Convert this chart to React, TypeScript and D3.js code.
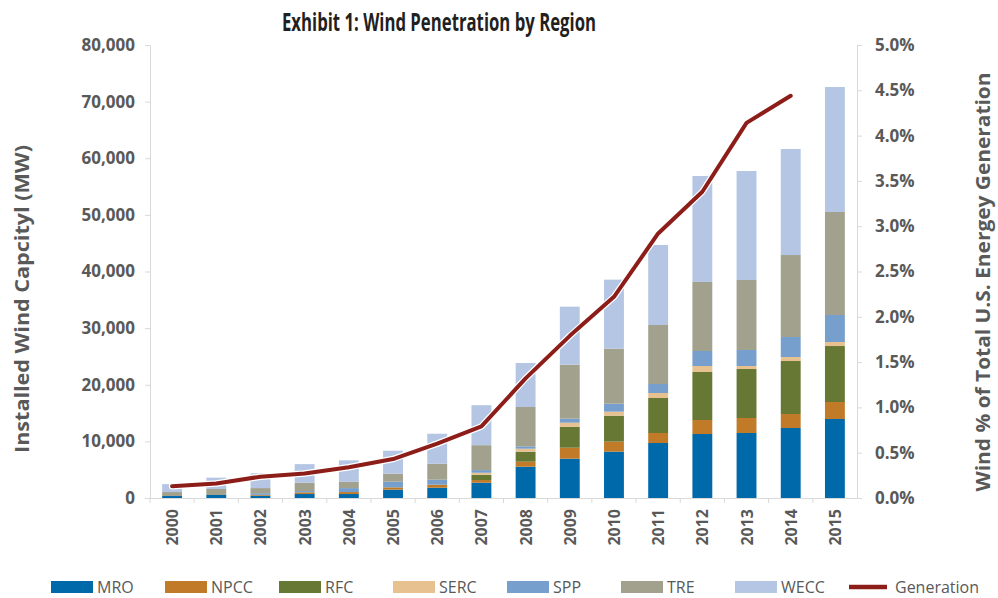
import { useEffect, useRef } from "react";
import * as d3 from "d3";

const years = [
  "2000", "2001", "2002", "2003", "2004", "2005", "2006", "2007",
  "2008", "2009", "2010", "2011", "2012", "2013", "2014", "2015",
];
const regions = ["MRO", "NPCC", "RFC", "SERC", "SPP", "TRE", "WECC"];
const regionColors = ["#0069aa", "#c07a28", "#677834", "#e8c190", "#779fcd", "#a1a18d", "#b4c6e4"];

// installed capacity in MW
const mro = [350, 530, 400, 700, 700, 1470, 1820, 2700, 5530, 6940, 8180, 9710, 11300, 11480, 12360, 13950];
const npcc = [0, 0, 150, 300, 350, 410, 530, 470, 880, 1940, 1770, 1770, 2470, 2650, 2470, 3000];
const rfc = [0, 0, 0, 0, 0, 0, 0, 940, 1770, 3710, 4590, 6180, 8480, 8650, 9360, 9890];
const serc = [0, 0, 0, 0, 0, 0, 0, 350, 530, 710, 710, 880, 1060, 530, 710, 710];
const spp = [0, 0, 300, 230, 700, 1000, 880, 470, 410, 710, 1410, 1590, 2650, 2830, 3530, 4770];
const tre = [700, 1060, 900, 1450, 1100, 1410, 2820, 4400, 6950, 9540, 9710, 10420, 12190, 12360, 14480, 18190];
const wecc = [1400, 2000, 2600, 3300, 3800, 4060, 5300, 7060, 7770, 10240, 12190, 14130, 18720, 19250, 18720, 22070];

// wind share of total generation (%), 2000-2014
const generation = [0.13, 0.16, 0.235, 0.27, 0.34, 0.43, 0.6, 0.79, 1.32, 1.79, 2.22, 2.92, 3.38, 4.14, 4.44];

const leftTicks = [0, 10000, 20000, 30000, 40000, 50000, 60000, 70000, 80000];
const rightTicks = [0, 0.005, 0.01, 0.015, 0.02, 0.025, 0.03, 0.035, 0.04, 0.045, 0.05];

const FONT = "'Open Sans', 'Noto Sans', sans-serif";
const AXIS_GREY = "#d9d9d9";
const TEXT_GREY = "#595959";

export default function App() {
  const svgRef = useRef<SVGSVGElement>(null);

  useEffect(() => {
    if (!svgRef.current) return;
    const svg = d3.select(svgRef.current);
    svg.selectAll("*").remove();

    const left = 150;
    const right = 857;
    const top = 45;
    const bottom = 498;

    const x = d3
      .scaleBand<string>()
      .domain(years)
      .range([left, right])
      .paddingInner(0.55)
      .paddingOuter(0.275);
    const y = d3.scaleLinear().domain([0, 80000]).range([bottom, top]);
    const y2 = d3.scaleLinear().domain([0, 0.05]).range([bottom, top]);

    const series = [mro, npcc, rfc, serc, spp, tre, wecc];
    const rows = years.map((yr, i) => {
      const row: Record<string, any> = { year: yr };
      regions.forEach((r, k) => (row[r] = series[k][i]));
      return row;
    });
    const stacked = d3.stack<Record<string, any>>().keys(regions)(rows);

    // stacked bars
    stacked.forEach((layer, k) => {
      svg
        .append("g")
        .selectAll("rect")
        .data(layer)
        .join("rect")
        .attr("x", (d) => x(d.data.year) as number)
        .attr("y", (d) => y(d[1]))
        .attr("width", x.bandwidth())
        .attr("height", (d) => y(d[0]) - y(d[1]))
        .attr("fill", regionColors[k]);
    });

    // left axis
    const gLeft = svg
      .append("g")
      .attr("transform", `translate(${left},0)`)
      .call(
        d3
          .axisLeft(y)
          .tickValues(leftTicks)
          .tickSize(5)
          .tickSizeOuter(0)
          .tickPadding(10)
          .tickFormat((d) => d3.format(",")(d as number))
      );

    // right axis
    const gRight = svg
      .append("g")
      .attr("transform", `translate(${right},0)`)
      .call(
        d3
          .axisRight(y2)
          .tickValues(rightTicks)
          .tickSize(5)
          .tickSizeOuter(0)
          .tickPadding(13)
          .tickFormat((d) => d3.format(".1%")(d as number))
      );

    [gLeft, gRight].forEach((g) => {
      g.select(".domain").attr("stroke", AXIS_GREY);
      g.selectAll(".tick line").attr("stroke", AXIS_GREY);
      g.selectAll(".tick text")
        .attr("fill", TEXT_GREY)
        .attr("font-family", FONT)
        .attr("font-weight", "bold")
        .attr("font-size", "17px");
    });

    // category axis
    const step = x.step();
    svg
      .append("line")
      .attr("x1", left)
      .attr("x2", right)
      .attr("y1", bottom + 0.5)
      .attr("y2", bottom + 0.5)
      .attr("stroke", AXIS_GREY);

    years.forEach((yr) => {
      const cx = (x(yr) as number) + x.bandwidth() / 2;
      const bx = cx - step / 2;
      svg
        .append("line")
        .attr("x1", bx)
        .attr("x2", bx)
        .attr("y1", bottom)
        .attr("y2", bottom + 5)
        .attr("stroke", AXIS_GREY);
      svg
        .append("text")
        .attr("transform", `translate(${cx},${bottom + 11}) rotate(-90)`)
        .attr("text-anchor", "end")
        .attr("dominant-baseline", "central")
        .attr("font-family", FONT)
        .attr("font-weight", "bold")
        .attr("font-size", "16px")
        .attr("fill", TEXT_GREY)
        .text(yr);
    });

    // generation line with white halo
    const line = d3
      .line<number>()
      .x((_, i) => (x(years[i]) as number) + x.bandwidth() / 2)
      .y((d) => y2(d / 100));

    svg
      .append("path")
      .datum(generation)
      .attr("d", line)
      .attr("fill", "none")
      .attr("stroke", "#ffffff")
      .attr("stroke-width", 6.5)
      .attr("stroke-linejoin", "round")
      .attr("stroke-linecap", "round");
    svg
      .append("path")
      .datum(generation)
      .attr("d", line)
      .attr("fill", "none")
      .attr("stroke", "#8c1d18")
      .attr("stroke-width", 4)
      .attr("stroke-linejoin", "round")
      .attr("stroke-linecap", "round");

    // title
    svg
      .append("text")
      .attr("x", 439)
      .attr("y", 31)
      .attr("text-anchor", "middle")
      .attr("font-family", FONT)
      .attr("font-weight", "bold")
      .attr("font-size", "25px")
      .attr("fill", "#231f20")
      .attr("textLength", 314)
      .attr("lengthAdjust", "spacingAndGlyphs")
      .text("Exhibit 1: Wind Penetration by Region");

    // axis titles
    svg
      .append("text")
      .attr("transform", "translate(22,299) rotate(-90)")
      .attr("text-anchor", "middle")
      .attr("dominant-baseline", "central")
      .attr("font-family", FONT)
      .attr("font-weight", "bold")
      .attr("font-size", "19px")
      .attr("fill", TEXT_GREY)
      .attr("textLength", 308)
      .attr("lengthAdjust", "spacingAndGlyphs")
      .text("Installed Wind Capcityl (MW)");

    svg
      .append("text")
      .attr("transform", "translate(983,282) rotate(-90)")
      .attr("text-anchor", "middle")
      .attr("dominant-baseline", "central")
      .attr("font-family", FONT)
      .attr("font-weight", "bold")
      .attr("font-size", "19px")
      .attr("fill", TEXT_GREY)
      .attr("textLength", 419)
      .attr("lengthAdjust", "spacingAndGlyphs")
      .text("Wind % of Total U.S. Energey Generation");

    // legend
    const legendY = 587;
    const legendStart = 51;
    const legendStep = 114;
    regions.forEach((r, k) => {
      const lx = legendStart + k * legendStep;
      svg
        .append("rect")
        .attr("x", lx)
        .attr("y", legendY - 6)
        .attr("width", 42)
        .attr("height", 12)
        .attr("fill", regionColors[k]);
      svg
        .append("text")
        .attr("x", lx + 46)
        .attr("y", legendY)
        .attr("dominant-baseline", "central")
        .attr("font-family", FONT)
        .attr("font-size", "16px")
        .attr("fill", TEXT_GREY)
        .text(r);
    });
    const gx = legendStart + regions.length * legendStep;
    svg
      .append("line")
      .attr("x1", gx)
      .attr("x2", gx + 38)
      .attr("y1", legendY)
      .attr("y2", legendY)
      .attr("stroke", "#e3c9c6")
      .attr("stroke-width", 6);
    svg
      .append("line")
      .attr("x1", gx)
      .attr("x2", gx + 38)
      .attr("y1", legendY)
      .attr("y2", legendY)
      .attr("stroke", "#8c1d18")
      .attr("stroke-width", 4);
    svg
      .append("text")
      .attr("x", gx + 46)
      .attr("y", legendY)
      .attr("dominant-baseline", "central")
      .attr("font-family", FONT)
      .attr("font-size", "16px")
      .attr("fill", TEXT_GREY)
      .text("Generation");
  }, []);

  return (
    <svg
      ref={svgRef}
      width={998}
      height={598}
      style={{ position: "absolute", left: 0, top: 0, background: "#ffffff" }}
    ></svg>
  );
}
